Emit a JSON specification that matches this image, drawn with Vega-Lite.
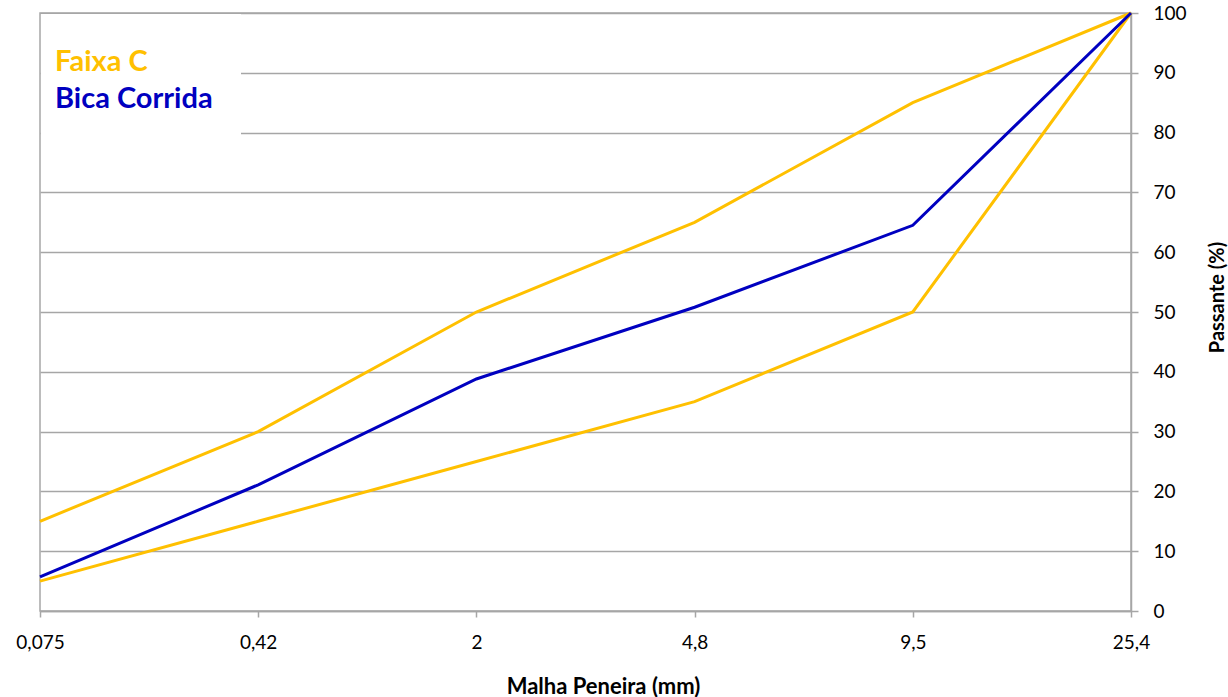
{
  "$schema": "https://vega.github.io/schema/vega-lite/v6.json",
  "width": 1091,
  "height": 598,
  "autosize": {"type": "none"},
  "padding": {"left": 40, "top": 13, "right": 97, "bottom": 86},
  "background": "white",
  "title": {
    "text": "Faixas estabelecidas segundo a norma DNIT 141-2010",
    "anchor": "start",
    "frame": "group",
    "font": "Lato",
    "fontSize": 21,
    "fontWeight": "normal",
    "color": "black",
    "baseline": "alphabetic",
    "offset": -1,
    "dx": 13
  },
  "data": {
    "values": [
      {"malha": "0,075", "passante": 15, "serie": "Faixa C sup", "grupo": "Faixa C"},
      {"malha": "0,42", "passante": 30, "serie": "Faixa C sup", "grupo": "Faixa C"},
      {"malha": "2", "passante": 50, "serie": "Faixa C sup", "grupo": "Faixa C"},
      {"malha": "4,8", "passante": 65, "serie": "Faixa C sup", "grupo": "Faixa C"},
      {"malha": "9,5", "passante": 85, "serie": "Faixa C sup", "grupo": "Faixa C"},
      {"malha": "25,4", "passante": 100, "serie": "Faixa C sup", "grupo": "Faixa C"},
      {"malha": "0,075", "passante": 5, "serie": "Faixa C inf", "grupo": "Faixa C"},
      {"malha": "0,42", "passante": 15, "serie": "Faixa C inf", "grupo": "Faixa C"},
      {"malha": "2", "passante": 25, "serie": "Faixa C inf", "grupo": "Faixa C"},
      {"malha": "4,8", "passante": 35, "serie": "Faixa C inf", "grupo": "Faixa C"},
      {"malha": "9,5", "passante": 50, "serie": "Faixa C inf", "grupo": "Faixa C"},
      {"malha": "25,4", "passante": 100, "serie": "Faixa C inf", "grupo": "Faixa C"},
      {"malha": "0,075", "passante": 5.7, "serie": "Bica Corrida", "grupo": "Bica Corrida"},
      {"malha": "0,42", "passante": 21.1, "serie": "Bica Corrida", "grupo": "Bica Corrida"},
      {"malha": "2", "passante": 38.8, "serie": "Bica Corrida", "grupo": "Bica Corrida"},
      {"malha": "4,8", "passante": 50.8, "serie": "Bica Corrida", "grupo": "Bica Corrida"},
      {"malha": "9,5", "passante": 64.5, "serie": "Bica Corrida", "grupo": "Bica Corrida"},
      {"malha": "25,4", "passante": 100, "serie": "Bica Corrida", "grupo": "Bica Corrida"}
    ]
  },
  "mark": {"type": "line", "strokeWidth": 3},
  "encoding": {
    "x": {
      "field": "malha",
      "type": "ordinal",
      "sort": ["0,075", "0,42", "2", "4,8", "9,5", "25,4"],
      "scale": {"type": "point", "padding": 0},
      "axis": {
        "title": "Malha Peneira (mm)",
        "labelAngle": 0,
        "labelFont": "Lato",
        "labelFontSize": 19,
        "labelColor": "black",
        "labelPadding": 16,
        "tickSize": 6,
        "tickColor": "#a6a6a6",
        "tickWidth": 1.5,
        "domainColor": "#a6a6a6",
        "domainWidth": 1.5,
        "grid": false,
        "titleFont": "Lato",
        "titleFontSize": 22,
        "titleFontWeight": "bold",
        "titleColor": "black",
        "titleX": 563,
        "titleY": 82,
        "titleBaseline": "alphabetic",
        "titleAlign": "center"
      }
    },
    "y": {
      "field": "passante",
      "type": "quantitative",
      "scale": {"domain": [0, 100], "nice": false, "zero": true},
      "axis": {
        "orient": "right",
        "title": "Passante (%)",
        "values": [0, 10, 20, 30, 40, 50, 60, 70, 80, 90, 100],
        "labelFont": "Lato",
        "labelFontSize": 19,
        "labelColor": "black",
        "labelPadding": 15,
        "tickSize": 7,
        "tickColor": "#a6a6a6",
        "tickWidth": 1.5,
        "domainColor": "#a6a6a6",
        "domainWidth": 1.5,
        "grid": true,
        "gridColor": "#a6a6a6",
        "gridWidth": 1.5,
        "titleFont": "Lato",
        "titleFontSize": 20,
        "titleFontWeight": "bold",
        "titleColor": "black",
        "titleAngle": 270,
        "titleX": 86,
        "titleY": 284,
        "titleAlign": "center",
        "titleBaseline": "middle"
      }
    },
    "color": {
      "field": "grupo",
      "type": "nominal",
      "scale": {"domain": ["Faixa C", "Bica Corrida"], "range": ["#FFC000", "#0000C0"]},
      "legend": {
        "title": null,
        "orient": "none",
        "legendX": 1,
        "legendY": 1,
        "fillColor": "white",
        "padding": 28,
        "symbolSize": 1600,
        "symbolOpacity": 0,
        "symbolStrokeWidth": 0,
        "labelOffset": -54,
        "rowPadding": 2,
        "labelFont": "Lato",
        "labelFontSize": 29,
        "labelFontWeight": "bold",
        "labelColor": {"expr": "datum.label == 'Faixa C' ? '#FFC000' : '#0000C0'"},
        "labelLimit": 400
      }
    },
    "detail": {"field": "serie", "type": "nominal"}
  },
  "config": {
    "view": {"stroke": "#a6a6a6", "strokeWidth": 1.5}
  }
}
